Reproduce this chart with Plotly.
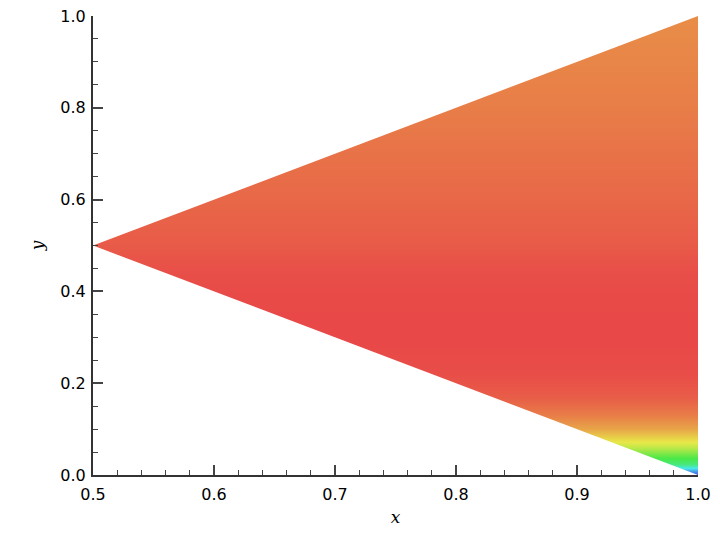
import colorsys
import numpy as np
import plotly.graph_objects as go

# Field profile: colour (as hue, degrees) vs y
y_levels = [0.0, 0.01, 0.025, 0.04, 0.06, 0.075, 0.10, 0.13, 0.17, 0.22, 0.30,
            0.40, 0.45, 0.50, 0.60, 0.70, 0.80, 0.90, 1.0]
hue_vals = [240, 200, 140, 115, 75, 58, 35, 20, 8, 2, 0,
            1, 3, 7, 12, 16, 20, 23, 26]
x_levels = [0.5, 1.0]

# Triangular domain vertices
tri_x = [0.5, 1.0, 1.0]
tri_y = [0.5, 1.0, 0.0]

x_ticks = [0.5, 0.6, 0.7, 0.8, 0.9, 1.0]
y_ticks = [0.0, 0.2, 0.4, 0.6, 0.8, 1.0]

# colour scale: hue wheel at constant saturation / lightness
stops = []
for h in range(0, 241, 10):
    r, g, b = colorsys.hls_to_rgb(h / 360.0, 0.596, 0.78)
    stops.append([h / 240.0, "rgb(%d,%d,%d)" % (round(r * 255), round(g * 255), round(b * 255))])

z = [[h for _ in x_levels] for h in hue_vals]

fig = go.Figure()
fig.add_trace(go.Heatmap(x=x_levels, y=y_levels, z=z, zmin=0, zmax=240,
                         colorscale=stops, showscale=False, zsmooth="best",
                         hoverinfo="skip"))
# white masks outside the triangular domain
fig.add_trace(go.Scatter(x=[tri_x[0], tri_x[0], tri_x[1], tri_x[0]],
                         y=[tri_y[0], tri_y[1], tri_y[1], tri_y[0]],
                         fill="toself", fillcolor="white", mode="none",
                         hoverinfo="skip", showlegend=False))
fig.add_trace(go.Scatter(x=[tri_x[0], tri_x[0], tri_x[2], tri_x[0]],
                         y=[tri_y[0], tri_y[2], tri_y[2], tri_y[0]],
                         fill="toself", fillcolor="white", mode="none",
                         hoverinfo="skip", showlegend=False))

tickfont = dict(family="DejaVu Sans", size=16, color="black")
titlefont = dict(family="DejaVu Serif", size=17, color="black", style="italic")

fig.update_layout(
    width=712, height=532,
    margin=dict(l=85, r=22, t=8, b=65),
    plot_bgcolor="white", paper_bgcolor="white",
    showlegend=False,
    xaxis=dict(range=[0.5, 1.0], tickvals=x_ticks, ticktext=["%.1f" % v for v in x_ticks],
               ticks="inside", ticklen=10, tickwidth=1.5, tickcolor="#444",
               minor=dict(dtick=0.02, tick0=0.5, ticks="inside", ticklen=5, tickwidth=1.2, tickcolor="#444"),
               showline=True, linecolor="#333", linewidth=2, showgrid=False, zeroline=False,
               tickfont=tickfont, ticklabelstandoff=4, ticklabeloverflow="allow",
               title=dict(text="x", font=titlefont, standoff=8),
               automargin=False, layer="above traces"),
    yaxis=dict(range=[0.0, 1.0], tickvals=y_ticks, ticktext=["%.1f" % v for v in y_ticks],
               ticks="inside", ticklen=10, tickwidth=1.5, tickcolor="#444",
               minor=dict(dtick=0.05, tick0=0.0, ticks="inside", ticklen=5, tickwidth=1.2, tickcolor="#444"),
               showline=True, linecolor="#333", linewidth=2, showgrid=False, zeroline=False,
               tickfont=tickfont, ticklabelstandoff=2, ticklabeloverflow="allow",
               title=dict(text="y", font=titlefont, standoff=12),
               automargin=False, layer="above traces"),
)

fig.write_html("out.html")
